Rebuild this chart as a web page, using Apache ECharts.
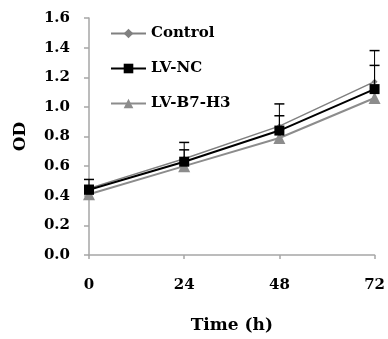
<!DOCTYPE html>
<html><head><meta charset="utf-8">
<script src="https://cdn.jsdelivr.net/npm/echarts@6/dist/echarts.min.js"></script>
<style>html,body{margin:0;padding:0;background:#fff}#c{width:388px;height:339px}</style>
</head><body><div id="c"></div>
<script>
var times = [0, 24, 48, 72];
var xTicks = ['0', '24', '48', '72'];
var control = [0.45, 0.65, 0.87, 1.17];
var lvNC = [0.44, 0.63, 0.84, 1.12];
var lvB7H3 = [0.41, 0.60, 0.79, 1.06];
var controlErr = [0.06, 0.11, 0.15, 0.21];
var lvNCErr = [0.03, 0.08, 0.10, 0.16];

function pairs(v){ return times.map(function(t,i){ return [t, v[i]]; }); }
function errData(v,e){ return times.map(function(t,i){ return [t, v[i], e[i]]; }); }
function errRender(params, api){
  var x = api.value(0), y = api.value(1), e = api.value(2);
  var p0 = api.coord([x, y]);
  var p1 = api.coord([x, y + e]);
  var hw = 5;
  return {type:'group', children:[
    {type:'line', shape:{x1:p0[0], y1:p0[1], x2:p1[0], y2:p1[1]}, style:{stroke:'#000', lineWidth:1}},
    {type:'line', shape:{x1:p1[0]-hw, y1:p1[1], x2:p1[0]+hw, y2:p1[1]}, style:{stroke:'#000', lineWidth:1.5}}
  ]};
}
var font = '"DejaVu Serif", "Liberation Serif", serif';
var chart = echarts.init(document.getElementById('c'), null, {renderer:'canvas'});
chart.setOption({
  animation:false,
  backgroundColor:'#fff',
  grid:{left:89, right:9, top:18, bottom:78},
  legend:{
    orient:'vertical', left:110, top:26, padding:0, itemWidth:35, itemHeight:12, itemGap:20,
    textStyle:{fontFamily:font, fontWeight:'bold', fontSize:15, color:'#000'},
    data:['Control','LV-NC','LV-B7-H3']
  },
  xAxis:{
    type:'value', min:0, max:72, interval:24,
    name:'Time (h)', nameLocation:'middle', nameGap:62,
    nameTextStyle:{fontFamily:font, fontWeight:'bold', fontSize:17, color:'#000'},
    axisLine:{lineStyle:{color:'#a6a6a6', width:1.5}},
    axisTick:{show:true, inside:false, length:4, lineStyle:{color:'#a6a6a6', width:1.5}},
    axisLabel:{margin:23, fontFamily:font, fontWeight:'bold', fontSize:15, color:'#000',
      formatter:function(v){ var i = times.indexOf(v); return i>=0 ? xTicks[i] : ''; }},
    splitLine:{show:false}
  },
  yAxis:{
    type:'value', min:0, max:1.6, interval:0.2,
    name:'OD', nameLocation:'middle', nameGap:60, nameRotate:90,
    nameTextStyle:{fontFamily:font, fontWeight:'bold', fontSize:17, color:'#000'},
    axisLine:{show:true, lineStyle:{color:'#a6a6a6', width:1.5}},
    axisTick:{show:true, length:5, lineStyle:{color:'#a6a6a6', width:1.5}},
    axisLabel:{margin:19, fontFamily:font, fontWeight:'bold', fontSize:15, color:'#000',
      formatter:function(v){ return v.toFixed(1); }},
    splitLine:{show:false}
  },
  series:[
    {name:'Control', type:'line', data:pairs(control), color:'#808080',
      lineStyle:{color:'#808080', width:1.5}, symbol:'diamond', symbolSize:6,
      itemStyle:{color:'#808080'}, z:2},
    {name:'LV-B7-H3', type:'line', data:pairs(lvB7H3), color:'#8c8c8c',
      lineStyle:{color:'#8c8c8c', width:2}, symbol:'triangle', symbolSize:12,
      itemStyle:{color:'#8c8c8c'}, z:3},
    {name:'LV-NC', type:'line', data:pairs(lvNC), color:'#000',
      lineStyle:{color:'#000', width:2}, symbol:'rect', symbolSize:10,
      itemStyle:{color:'#000'}, z:4},
    {type:'custom', data:errData(control, controlErr), renderItem:errRender, z:5, silent:true},
    {type:'custom', data:errData(lvNC, lvNCErr), renderItem:errRender, z:5, silent:true}
  ]
});
</script></body></html>
